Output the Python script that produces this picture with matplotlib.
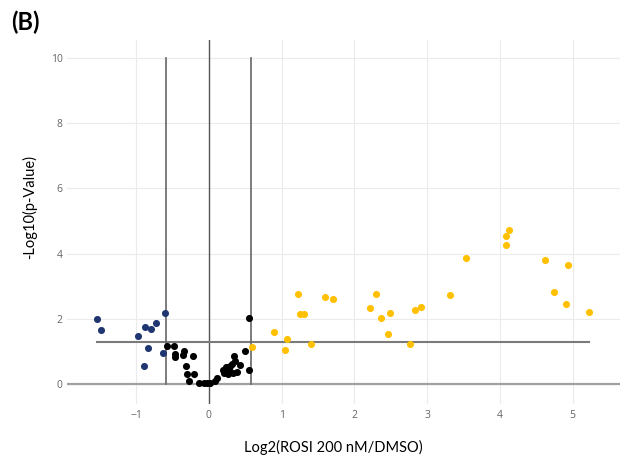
import matplotlib.pyplot as plt
import numpy as np

# log2 fold change (ROSI 200 nM vs DMSO) and -log10 p-value per protein
down_x = [-1.54, -1.48, -0.98, -0.88, -0.80, -0.73, -0.61, -0.84, -0.63, -0.89]
down_y = [1.99, 1.65, 1.46, 1.74, 1.68, 1.86, 2.18, 1.10, 0.94, 0.57]

ns_x = [-0.58, -0.48, -0.46, -0.47, -0.34, -0.35, -0.22, -0.32, -0.30, -0.20,
        -0.28, -0.14, -0.07, -0.03, 0.01, 0.08, 0.11, 0.20, 0.21, 0.24,
        0.28, 0.29, 0.32, 0.34, 0.36, 0.38, 0.26, 0.33, 0.43, 0.50,
        0.55, 0.55]
ns_y = [1.17, 1.17, 0.91, 0.82, 1.02, 0.89, 0.86, 0.55, 0.30, 0.32,
        0.10, 0.03, 0.03, 0.02, 0.02, 0.10, 0.19, 0.43, 0.33, 0.53,
        0.46, 0.57, 0.63, 0.87, 0.71, 0.38, 0.31, 0.33, 0.58, 1.02,
        0.43, 2.03]

up_x = [0.59, 0.90, 1.08, 1.05, 1.22, 1.25, 1.31, 1.41, 1.60, 1.70,
        2.22, 2.30, 2.37, 2.49, 2.46, 2.76, 2.83, 2.91, 3.32, 3.54,
        4.13, 4.09, 4.09, 4.62, 4.93, 4.74, 4.91, 5.23]
up_y = [1.14, 1.60, 1.37, 1.05, 2.75, 2.15, 2.15, 1.22, 2.66, 2.61,
        2.32, 2.75, 2.04, 2.18, 1.55, 1.24, 2.26, 2.35, 2.72, 3.87,
        4.72, 4.55, 4.28, 3.79, 3.65, 2.81, 2.46, 2.21]

fc_cut = np.log2(1.5)
p_cut = -np.log10(0.05)

fig = plt.figure(figsize=(6.26, 4.65), dpi=100)
ax = fig.add_axes([67 / 626, 1 - 404 / 465, (620 - 67) / 626, (404 - 40) / 465])

ax.set_xlim(-1.95, 5.65)
ax.set_ylim(-0.61, 10.55)

for s in ax.spines.values():
    s.set_visible(False)
ax.set_xticks([-1, 0, 1, 2, 3, 4, 5])
ax.set_xticklabels(["\u22121", "0", "1", "2", "3", "4", "5"])
ax.set_yticks([0, 2, 4, 6, 8, 10])
ax.grid(True, color="#ebebeb", linewidth=0.8)
ax.set_axisbelow(True)
ax.tick_params(length=0, labelsize=7.5, labelcolor="#666666",
               labelfontfamily="Open Sans")
ax.tick_params(axis="y", pad=3)
ax.tick_params(axis="x", pad=4)

# zero lines
ax.axvline(0, color="#555555", linewidth=1.0, zorder=1)
ax.axhline(0, color="#a0a0a0", linewidth=1.6, zorder=1)

# thresholds
x_all = down_x + ns_x + up_x
ax.plot([min(x_all), max(x_all)], [p_cut, p_cut], color="#7a7a7a", linewidth=1.5, zorder=1)
ax.plot([-fc_cut, -fc_cut], [0, 10], color="#666666", linewidth=1.2, zorder=1)
ax.plot([fc_cut, fc_cut], [0, 10], color="#666666", linewidth=1.2, zorder=1)

ax.scatter(ns_x, ns_y, s=26, color="black", linewidths=0, zorder=3)
ax.scatter(down_x, down_y, s=26, color="#1f3670", linewidths=0, zorder=3)
ax.scatter(up_x, up_y, s=26, color="#ffc000", linewidths=0, zorder=3)

fig.text(333 / 626, 1 - 447 / 465, "Log2(ROSI 200 nM/DMSO)", ha="center", va="center",
         fontsize=10.5, family="Lato")
fig.text(30 / 626, 1 - 207 / 465, "-Log10(p-Value)", ha="center", va="center",
         rotation=90, fontsize=10.5, family="Lato")
fig.text(11 / 626, 1 - 22 / 465, "(B)", ha="left", va="center",
         fontsize=17, fontweight="bold", family="Lato")

fig.savefig("out.png", dpi=100)
